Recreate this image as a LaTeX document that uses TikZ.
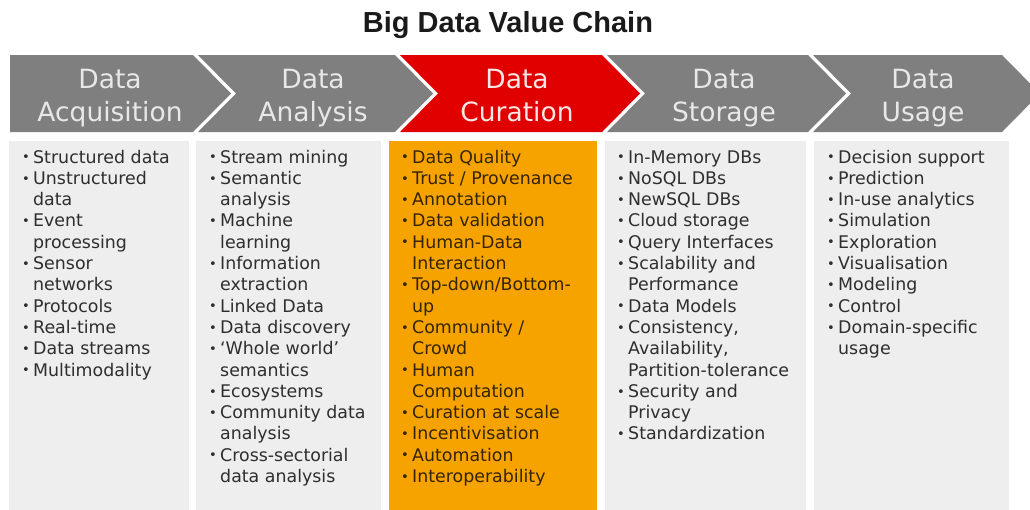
\documentclass[tikz,border=0pt]{standalone}
\usepackage{fontspec}
\usepackage{graphicx}
\setmainfont{DejaVu Sans}
\newfontfamily\titlefont{Liberation Sans}
\definecolor{chevgray}{HTML}{7F7F7F}
\definecolor{chevred}{HTML}{E00000}
\definecolor{boxgray}{HTML}{EEEEEE}
\definecolor{boxorange}{HTML}{F6A300}
\definecolor{headtext}{HTML}{E8E8E8}
\definecolor{headred}{HTML}{FBE6E6}
\definecolor{listtext}{HTML}{2E2E2E}
\definecolor{listorange}{HTML}{352400}
\definecolor{titletext}{HTML}{1A1A1A}
\newlength\bulw
\setlength\bulw{11pt}
\newcommand\bi[1]{\makebox[\bulw][l]{\raisebox{1.3pt}{\scalebox{0.75}{\textbullet}}}#1}
\newcommand\ct[1]{\hspace*{\bulw}#1}
\newcommand\lst[1]{\parbox[t]{215pt}{\fontsize{17.4}{21.3}\selectfont\raggedright #1}}
\begin{document}
\begin{tikzpicture}[x=1pt,y=-1pt,
  chev/.style={fill=chevgray},
  head/.style={anchor=base, inner sep=0, font=\fontsize{26.5}{31}\selectfont, text=headtext},
  list/.style={anchor=base west, inner sep=0, text=listtext},
  colbox/.style={fill=boxgray, draw=white, line width=1pt}]
\clip (0,0) rectangle (1030,509);
\fill[white] (0,0) rectangle (1030,509);
% title
\node[anchor=base, inner sep=0, text=titletext, font=\titlefont\bfseries\fontsize{29}{34}\selectfont] (title) at (508,32) {Big Data Value Chain};
% chevrons
\fill[chev] (10,55) -- (193,55) -- (231,93.5) -- (193,132) -- (10,132) -- cycle;
\fill[chev] (198,55) -- (395,55) -- (433,93.5) -- (395,132) -- (198,132) -- (236,93.5) -- cycle;
\fill[chevred] (400,55) -- (602,55) -- (640,93.5) -- (602,132) -- (400,132) -- (438,93.5) -- cycle;
\fill[chev] (607,55) -- (808,55) -- (846,93.5) -- (808,132) -- (607,132) -- (645,93.5) -- cycle;
\fill[chev] (813,55) -- (1002,55) -- (1040,93.5) -- (1002,132) -- (813,132) -- (851,93.5) -- cycle;
\node[head] (h0a) at (110,88.5) {Data};
\node[head] (h0b) at (110,121.5) {Acquisition};
\node[head] (h1a) at (313,88.5) {Data};
\node[head] (h1b) at (313,121.5) {Analysis};
\node[head, text=headred] (h2a) at (517,88.5) {Data};
\node[head, text=headred] (h2b) at (517,121.5) {Curation};
\node[head] (h3a) at (724,88.5) {Data};
\node[head] (h3b) at (724,121.5) {Storage};
\node[head] (h4a) at (923,88.5) {Data};
\node[head] (h4b) at (923,121.5) {Usage};
% column boxes
\path[colbox] (8,140) rectangle (189,512);
\path[colbox] (195,140) rectangle (381,512);
\path[colbox, fill=boxorange] (388,140) rectangle (597,512);
\path[colbox] (604,140) rectangle (806,512);
\path[colbox] (813,140) rectangle (1009,512);
% lists
\node[list] (l0) at (22,163) {\lst{%
\bi{Structured data}\\
\bi{Unstructured}\\
\ct{data}\\
\bi{Event}\\
\ct{processing}\\
\bi{Sensor}\\
\ct{networks}\\
\bi{Protocols}\\
\bi{Real-time}\\
\bi{Data streams}\\
\bi{Multimodality}}};
\node[list] (l1) at (209,163) {\lst{%
\bi{Stream mining}\\
\bi{Semantic}\\
\ct{analysis}\\
\bi{Machine}\\
\ct{learning}\\
\bi{Information}\\
\ct{extraction}\\
\bi{Linked Data}\\
\bi{Data discovery}\\
\bi{‘Whole world’}\\
\ct{semantics}\\
\bi{Ecosystems}\\
\bi{Community data}\\
\ct{analysis}\\
\bi{Cross-sectorial}\\
\ct{data analysis}}};
\node[list, text=listorange] (l2) at (401,163) {\lst{%
\bi{Data Quality}\\
\bi{Trust / Provenance}\\
\bi{Annotation}\\
\bi{Data validation}\\
\bi{Human-Data}\\
\ct{Interaction}\\
\bi{Top-down/Bottom-}\\
\ct{up}\\
\bi{Community /}\\
\ct{Crowd}\\
\bi{Human}\\
\ct{Computation}\\
\bi{Curation at scale}\\
\bi{Incentivisation}\\
\bi{Automation}\\
\bi{Interoperability}}};
\node[list] (l3) at (617,163) {\lst{%
\bi{In-Memory DBs}\\
\bi{NoSQL DBs}\\
\bi{NewSQL DBs}\\
\bi{Cloud storage}\\
\bi{Query Interfaces}\\
\bi{Scalability and}\\
\ct{Performance}\\
\bi{Data Models}\\
\bi{Consistency,}\\
\ct{Availability,}\\
\ct{Partition-tolerance}\\
\bi{Security and}\\
\ct{Privacy}\\
\bi{Standardization}}};
\node[list] (l4) at (827,163) {\lst{%
\bi{Decision support}\\
\bi{Prediction}\\
\bi{In-use analytics}\\
\bi{Simulation}\\
\bi{Exploration}\\
\bi{Visualisation}\\
\bi{Modeling}\\
\bi{Control}\\
\bi{Domain-specific}\\
\ct{usage}}};
\end{tikzpicture}
\end{document}
